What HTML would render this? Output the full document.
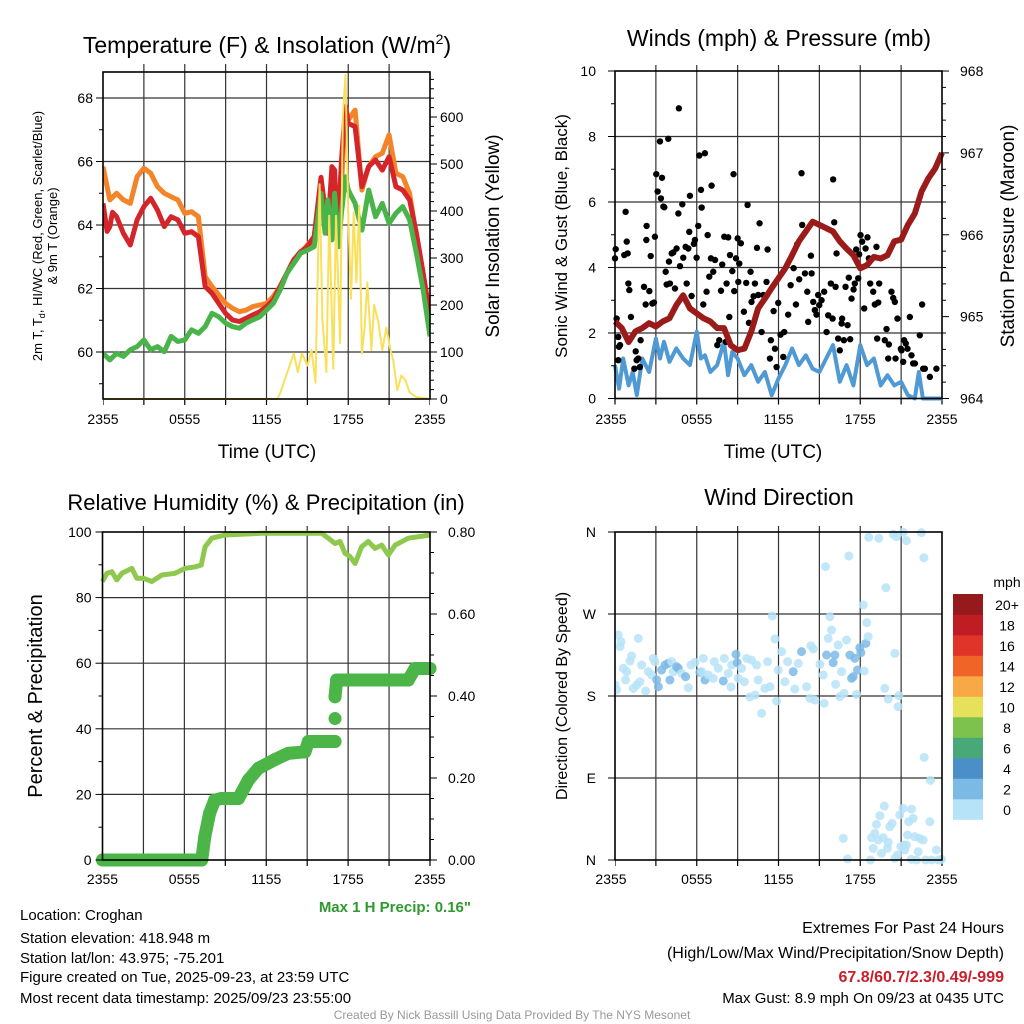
<!DOCTYPE html>
<html><head><meta charset="utf-8"><title>Croghan Mesonet Meteogram</title>
<style>
html,body{margin:0;padding:0;background:#fff;}
svg{display:block;font-family:"Liberation Sans",Arial,sans-serif;}
</style></head>
<body>
<svg id="chart" width="1024" height="1024" viewBox="0 0 1024 1024" xmlns="http://www.w3.org/2000/svg"></svg>
<script>
// ---------- Panel 1 data: temperatures (F) & solar (W/m2) ----------
const tTimes9m = [0,0.5,1,1.5,2,2.5,3,3.5,4,4.5,5,5.5,6,6.5,7,7.5,8,8.5,9,9.5,10,10.5,11,11.5,12,12.5,13,13.5,14,14.5,15,15.5,16,16.3,16.5,16.8,17,17.3,17.5,17.8,18,18.5,19,19.5,20,20.5,21,21.5,22,22.5,23,23.5,24];
const temp9m = [65.84,64.79,65.0,64.79,64.68,65.52,65.79,65.63,65.21,65.0,64.89,64.79,64.37,64.42,64.26,62.37,62.06,61.8,61.53,61.38,61.27,61.32,61.43,61.48,61.53,61.75,62.06,62.48,62.9,63.11,63.37,63.63,65.3,64.3,63.8,65.7,65.5,63.7,65.2,67.73,67.31,67.62,65.1,65.84,66.15,66.26,66.84,65.63,65.52,65.0,63.63,62.37,61.22];
const tTimes2m = [0,0.3,0.5,0.7,1,1.5,2,2.5,3,3.5,4,4.5,5,5.5,6,6.5,7,7.5,8,8.5,9,9.5,10,10.5,11,11.5,12,12.5,13,13.5,14,14.5,15,15.5,16,16.3,16.5,16.8,17,17.2,17.5,17.8,18,18.5,19,19.5,20,20.5,21,21.5,22,22.5,23,23.5,24];
const temp2m = [64.68,63.8,63.95,64.4,64.26,63.74,63.37,64.16,64.58,64.84,64.47,63.95,64.26,64.16,63.74,63.79,63.63,62.06,61.85,61.53,61.22,61.01,60.96,61.06,61.17,61.27,61.43,61.64,62.06,62.48,62.9,63.16,63.32,63.63,65.5,64.47,63.74,65.84,65.73,63.42,66.0,67.73,67.2,67.1,65.21,65.84,66.05,65.73,66.15,65.21,65.1,64.79,63.74,62.48,61.11];
const tdTimes = [0,0.5,1,1.5,2,2.5,3,3.5,4,4.5,5,5.5,6,6.5,7,7.5,8,8.5,9,9.5,10,10.5,11,11.5,12,12.5,13,13.5,14,14.5,15,15.5,16,16.3,16.5,16.8,17,17.3,17.5,17.8,18,18.5,19,19.5,20,20.5,21,21.5,22,22.5,23,23.5,24];
const dewpoint = [59.96,59.75,59.96,59.86,60.07,60.17,60.38,60.07,60.17,60.01,60.49,60.33,60.38,60.7,60.59,60.8,61.22,61.11,60.91,60.8,60.75,60.91,61.01,61.11,61.32,61.53,61.95,62.48,62.79,63.11,63.21,63.32,65.0,63.74,64.79,63.53,65.0,63.32,64.37,65.52,65.1,64.68,63.84,65.1,64.26,64.68,64.05,64.37,64.58,64.16,63.11,61.95,60.49];
const solarTimes = [0,12.8,13,14,14.3,14.6,15,15.3,15.6,15.9,16.1,16.4,16.6,16.9,17.1,17.4,17.6,17.8,18.0,18.2,18.4,18.6,18.8,19.0,19.2,19.4,19.7,19.9,20.2,20.5,20.8,21.1,21.3,21.6,21.9,22.2,22.5,23,24];
const solar = [0,0,12,97,57,97,71,104,35,457,170,57,390,64,390,119,600,690,390,213,397,248,411,97,152,248,104,200,165,104,152,104,83,19,50,40,14,4,0];
const tempTicks = [60,62,64,66,68];
const solarTicks = [0,100,200,300,400,500,600];
const timeTickLabels = ["2355","0555","1155","1755","2355"];

// ---------- Panel 2 data: winds (mph) & pressure (mb) ----------
const windTimes = [0,0.3,0.6,1,1.3,1.6,2,2.5,3,3.3,3.6,4,4.5,5,5.5,6,6.3,6.6,7,7.5,8,8.3,8.6,9,9.5,10,10.5,11,11.5,12,12.5,13,13.5,14,14.5,15,15.5,16,16.5,17,17.5,18,18.5,19,19.5,20,20.5,21,21.5,22,22.3,22.6,23,24];
const windSpeed = [1.02,0.30,1.22,0.40,0.81,0.10,1.22,0.81,1.83,1.22,1.73,1.12,1.53,1.22,1.02,2.04,1.22,1.32,0.81,1.02,1.73,0.71,1.42,1.22,0.71,1.02,0.51,0.81,0.10,0.61,1.02,1.53,1.02,1.32,0.91,0.81,1.22,1.63,0.51,1.02,0.40,1.63,1.02,1.22,0.40,0.71,0.40,0.51,0.10,0.0,0.81,0.0,0.0,0.0];
const gustTimes = [0.0,0.05,0.12,0.24,0.29,0.37,0.24,0.78,0.86,0.68,0.93,0.98,1.05,1.17,1.52,1.59,1.71,1.42,1.83,1.88,2.13,2.25,2.32,2.30,2.52,2.62,2.74,2.86,2.93,3.03,3.13,3.30,3.37,3.45,3.55,3.62,3.72,3.79,3.91,3.96,4.03,4.16,4.28,4.40,4.52,4.65,4.69,4.77,4.94,5.01,5.18,5.26,5.38,5.50,5.45,5.62,5.79,5.87,5.99,6.11,6.19,6.31,6.36,6.48,6.60,6.72,6.80,6.92,7.04,7.09,7.21,7.34,7.51,7.65,7.78,7.87,8.02,8.14,8.19,8.31,8.39,8.44,8.61,8.70,8.75,8.88,9.00,9.05,9.12,9.24,9.46,9.63,9.73,9.83,9.95,10.02,10.17,10.27,10.42,10.51,10.61,10.76,10.88,11.12,11.20,11.37,11.44,11.64,11.74,11.86,11.98,12.15,12.35,12.42,12.71,12.89,13.11,13.28,13.37,13.52,13.69,13.74,13.94,14.11,14.18,14.38,14.43,14.55,14.67,14.79,14.91,14.99,15.16,15.35,15.53,15.65,15.84,15.97,16.01,16.09,16.19,16.26,16.38,16.50,16.63,16.67,16.80,16.92,17.07,17.16,17.26,17.36,17.51,17.60,17.70,17.85,17.92,18.02,18.14,18.29,18.39,18.53,18.63,18.73,18.95,19.07,19.19,19.32,19.24,19.39,19.80,19.93,20.05,20.10,20.29,20.42,20.54,20.59,20.73,20.98,21.03,21.15,21.22,21.34,21.47,21.64,21.76,21.88,22.01,22.37,22.54,22.62,22.74,23.11,23.59];
const gustSpeed = [4.28,4.56,2.44,1.88,1.58,1.63,1.17,5.70,4.79,4.38,4.43,3.51,3.31,2.49,1.44,1.17,1.22,0.91,0.96,1.78,3.41,2.87,5.27,4.84,3.28,4.35,2.90,2.93,4.94,6.85,6.32,7.85,6.11,6.74,5.86,5.84,3.87,3.48,7.93,4.18,3.51,4.43,4.46,3.36,4.58,5.65,8.86,4.04,5.93,4.30,4.63,3.51,4.58,6.19,5.09,3.13,4.72,4.84,4.30,5.27,7.42,6.37,5.83,2.87,7.49,3.26,4.99,3.72,4.28,6.50,3.87,4.23,1.63,1.78,3.29,4.09,4.94,1.73,3.51,4.92,2.49,4.38,3.89,6.85,3.28,4.28,4.89,3.56,4.12,4.74,2.65,3.53,5.91,2.31,3.87,2.95,3.12,3.51,4.60,3.16,5.35,2.03,3.16,3.56,4.55,1.22,1.78,2.67,1.52,0.96,2.92,1.95,1.27,2.03,2.56,3.46,3.98,2.87,4.71,3.64,6.88,5.30,3.82,3.26,2.34,4.36,3.82,2.95,2.70,2.56,3.16,2.85,3.00,3.26,2.03,2.54,3.51,2.44,6.69,5.38,3.41,4.43,1.83,1.47,2.29,2.44,1.78,3.41,2.24,3.69,1.81,3.05,3.33,3.51,4.55,3.67,4.40,4.99,4.79,2.75,4.58,4.92,4.28,3.51,3.26,2.87,4.63,2.93,1.83,3.51,1.78,2.12,1.22,1.65,3.26,3.07,2.95,1.22,2.44,1.52,1.47,1.12,1.78,1.68,1.52,2.49,1.32,1.07,1.07,1.93,2.87,0.91,0.91,0.66,0.91];
const presTimes = [0,0.5,1,1.5,2,2.5,3,3.5,4,4.5,5,5.5,6,6.5,7,7.5,8,8.5,9,9.5,10,10.5,11,11.5,12,12.5,13,13.5,14,14.5,15,15.5,16,16.5,17,17.5,18,18.5,19,19.5,20,20.5,21,21.5,22,22.5,23,23.5,24];
const pressure = [964.94,964.86,964.69,964.82,964.86,964.92,964.88,964.94,964.98,965.14,965.26,965.10,965.04,964.98,964.94,964.86,964.86,964.65,964.59,964.61,964.82,965.10,965.22,965.35,965.47,965.59,965.75,965.92,966.04,966.16,966.12,966.08,966.04,965.92,965.83,965.75,965.59,965.63,965.73,965.71,965.75,965.92,965.94,966.12,966.26,966.53,966.69,966.81,967.0];
const windTicks = [0,2,4,6,8,10];
const presTicks = [964,965,966,967,968];

// ---------- Panel 3 data: RH (%) & precipitation (in) ----------
const rhTimes = [0,0.32,0.68,1.05,1.42,2.15,2.51,3.0,3.61,4.35,5.32,6.05,6.79,7.23,7.52,8.01,8.98,11.67,16.06,16.55,17.04,17.41,17.77,18.14,18.51,18.99,19.48,19.97,20.46,20.95,21.44,22.41,24];
const rh = [84.9,87.4,87.9,85.4,87.4,88.9,85.9,85.9,84.9,86.9,87.4,88.9,89.4,89.9,95.5,98.1,99.1,99.6,99.6,98.1,96.5,97.1,93.5,92.5,90.4,95.5,97.1,95.0,96.0,93.0,96.0,98.1,99.1];
const precipTimes = [0,7.27,7.5,7.85,8.22,8.7,9.96,10.69,11.43,12.65,13.6,14.84,15.09,17.04,17.04,17.04,17.16,22.41,22.9,24];
const precip = [0,0,0.057,0.114,0.146,0.15,0.15,0.195,0.224,0.245,0.26,0.264,0.289,0.289,0.345,0.398,0.439,0.439,0.467,0.467];
const rhTicks = [0,20,40,60,80,100];
const precipTicks = ["0.00","0.20","0.40","0.60","0.80"];

// ---------- Panel 4 data: wind direction (deg) colored by speed ----------
const dirTimes = [0.24,0.44,0.37,1.71,1.22,1.10,0.61,0.86,0.78,0.0,0.12,1.34,1.59,1.83,2.25,1.96,2.45,2.81,2.93,2.69,3.06,3.18,3.42,3.67,3.91,4.03,4.16,4.28,4.52,4.65,4.89,5.18,5.38,5.57,5.87,6.23,6.36,6.48,6.60,6.85,7.21,7.29,7.58,7.95,8.02,8.31,8.51,8.56,8.88,8.97,9.05,9.29,9.49,9.66,9.90,10.02,10.27,10.39,10.51,10.76,11.0,11.20,11.37,11.54,11.74,11.86,11.98,12.23,12.47,12.67,13.08,13.20,13.45,13.69,14.06,14.30,14.38,14.55,14.67,15.04,15.28,15.35,15.45,15.53,15.65,15.77,15.89,16.01,16.14,16.19,16.38,16.50,16.63,16.82,16.99,17.16,17.24,17.36,17.48,17.60,17.73,17.80,17.97,18.04,18.22,18.29,18.41,18.48,18.58,18.63,19.36,19.80,19.88,20.05,20.42,20.54,20.66,20.78,20.83,21.15,21.39,22.49,22.67,22.69,23.15,16.75,17.07,18.75,18.83,18.95,19.07,19.19,19.32,19.44,19.56,19.68,19.76,20.0,20.05,20.17,20.34,20.54,20.73,20.90,20.98,21.15,21.22,21.27,21.39,21.47,21.56,21.76,21.88,22.0,22.37,22.62,22.25,21.76,22.13,22.79,23.11,23.23,23.59,23.72,23.96];
const dirDeg = [246.9,239.6,234.1,243.3,223.9,218.4,210.4,206.7,197.6,192.1,186.6,188.4,192.1,195.7,185.5,214.0,206.7,221.3,217.7,203.0,197.6,190.2,208.5,214.0,215.8,197.6,217.7,206.7,212.2,210.4,204.9,201.2,189.1,214.0,216.9,206.0,206.7,221.3,197.6,203.1,199.4,217.7,210.4,196.5,221.3,204.9,189.9,214.0,225.7,216.6,199.4,210.4,195.7,221.3,178.9,219.5,181.1,214.0,197.6,161.0,188.4,217.7,190.2,267.8,242.6,174.5,208.5,228.7,195.7,217.7,206.7,187.7,215.8,228.7,190.2,177.4,235.2,231.6,175.6,214.8,203.0,171.9,322.0,225.0,243.3,267.1,252.4,216.6,225.0,192.8,236.0,179.3,206.7,182.9,241.5,333.7,225.0,199.4,201.2,221.3,181.8,208.5,233.0,227.6,279.9,207.4,237.8,260.5,245.1,354.2,353.1,188.4,298.9,176.7,357.5,226.8,354.9,168.3,180.4,359.7,350.5,359.3,331.8,112.7,87.4,23.8,1.1,0.0,24.5,12.8,29.3,39.1,21.9,48.6,7.3,24.5,59.2,12.8,19.4,36.6,40.2,1.8,5.5,49.4,14.6,56.7,16.4,11.0,16.4,27.4,42.0,55.9,45.7,25.6,23.8,21.9,9.1,0.7,0.0,0.0,42.0,0.0,11.0,0.0,0.7];
const dirSpeed = [1,1,1,1,1,1,1,1,1,1,1,1,1,1,1,1,1,1,1,1,3,3,3,3,3,3,1,1,3,3,1,3,1,1,1,3,1,1,3,1,1,1,1,3,1,1,1,1,3,3,1,1,1,1,1,1,1,1,1,1,1,1,1,1,1,1,1,1,1,1,3,1,1,3,1,1,1,1,1,1,1,1,1,3,1,1,1,3,3,1,1,1,1,1,1,1,3,3,3,3,1,3,3,3,1,1,3,1,1,1,1,1,1,1,1,1,1,1,1,1,1,1,1,1,1,1,1,1,1,1,1,1,1,1,1,1,1,1,1,1,1,1,1,1,1,1,1,1,1,1,1,1,1,1,1,1,1,1,1,1,1,1,1,1,1,1];
const dirTickLabels = ["N","E","S","W","N"];
const speedBins = ["0","2","4","6","8","10","12","14","16","18","20+"];
const speedColors = ["#b6e3f7","#7cbae6","#4a8fc8","#48a878","#7cc24c","#e6e05a","#f8a845","#f06428","#e03428","#c01c24","#961a1c"];

// ---------- helpers ----------
const NS = "http://www.w3.org/2000/svg";
const svg = document.getElementById("chart");
function mk(tag, attrs, parent) {
  const e = document.createElementNS(NS, tag);
  for (const k in attrs) e.setAttribute(k, attrs[k]);
  (parent || svg).appendChild(e);
  return e;
}
function txt(x, y, s, size, anchor, parent, fill, weight) {
  const t = mk("text", {x: x, y: y, "font-size": size, "text-anchor": anchor || "middle", fill: fill || "#000"}, parent);
  if (weight) t.setAttribute("font-weight", weight);
  t.textContent = s;
  return t;
}
function pathD(xs, ys, fx, fy) {
  let d = "";
  for (let i = 0; i < xs.length; i++) d += (i ? "L" : "M") + fx(xs[i]).toFixed(1) + "," + fy(ys[i]).toFixed(1);
  return d;
}
function grp(parent) { return mk("g", {}, parent); }

function frame(L, T, R, B, g) {
  const r = mk("rect", {x: L, y: T, width: R - L, height: B - T, fill: "none", stroke: "#000", "stroke-width": 1.6}, g);
  
  
}
function timeAxis(L, R, B, g) {
  const xs = h => L + h * (R - L) / 24;
  for (let h = 0; h <= 24; h += 3) {
    if (h > 0 && h < 24) {
      const gl = mk("line", {x1: xs(h), y1: B, x2: xs(h), y2: B - 1000, stroke: "#333", "stroke-width": 1.2}, g);
      
      
    }
    const tk = mk("line", {x1: xs(h), y1: B, x2: xs(h), y2: B + 6, stroke: "#000", "stroke-width": 1.2}, g);
    
    
  }
}

// ================= PANEL 1 =================
(function () {
  const L = 103, R = 430, T = 72, B = 399;
  const g = grp();
  
  
  const x = h => L + h * (R - L) / 24;
  const yT = t => 98 + (68 - t) * 31.75;
  const yS = s => B - s * 0.47;
  const clip = mk("clipPath", {id: "c1"}, g);
  mk("rect", {x: L, y: T - 8, width: R - L, height: B - T + 14}, clip);
  const gg = grp(g); gg.setAttribute("clip-path", "url(#c1)");
  for (const v of tempTicks) {
    const l = mk("line", {x1: L, y1: yT(v), x2: R, y2: yT(v), stroke: "#333", "stroke-width": 1.2}, gg);
    
    
  }
  timeAxis(L, R, B, gg);
  for (let v = 59; v <= 68; v++) {
    const tk = mk("line", {x1: L, y1: yT(v), x2: L - (v % 2 === 0 ? 7 : 4), y2: yT(v), stroke: "#000", "stroke-width": 1}, g);
    
    
  }
  for (const v of tempTicks) {
    const t = txt(L - 10, yT(v) + 5, String(v), 14, "end", g);
    
    
  }
  for (let s = 0; s <= 680; s += 20) {
    const tk = mk("line", {x1: R, y1: yS(s), x2: R + (s % 100 === 0 ? 7 : 4), y2: yS(s), stroke: "#000", "stroke-width": 1}, g);
    
    
  }
  for (const s of solarTicks) {
    const t = txt(R + 10, yS(s) + 5, String(s), 14, "start", g);
    
    
  }
  for (let i = 0; i < timeTickLabels.length; i++) {
    const t = txt(x(i * 6), 424, timeTickLabels[i], 14, "middle", g);
    
    
  }
  const p9 = mk("path", {d: pathD(tTimes9m, temp9m, x, yT), fill: "none", stroke: "#f4842a", "stroke-width": 5, "stroke-linejoin": "round"}, gg);
  
  
  const p2 = mk("path", {d: pathD(tTimes2m, temp2m, x, yT), fill: "none", stroke: "#d4262a", "stroke-width": 5, "stroke-linejoin": "round"}, gg);
  
  
  const pd = mk("path", {d: pathD(tdTimes, dewpoint, x, yT), fill: "none", stroke: "#49b44a", "stroke-width": 5, "stroke-linejoin": "round"}, gg);
  
  
  const ps = mk("path", {d: pathD(solarTimes, solar, x, yS), fill: "none", stroke: "#f9e05a", "stroke-width": 2, "stroke-linejoin": "round"}, gg);
  
  
  frame(L, T, R, B, g);
  const ti = mk("text", {x: 267, y: 53, "font-size": 23, "text-anchor": "middle"}, g);
  ti.innerHTML = 'Temperature (F) &amp; Insolation (W/m<tspan dy="-9" font-size="14">2</tspan><tspan dy="9">)</tspan>';
  
  
  const xl = txt(267, 458, "Time (UTC)", 19, "middle", g);
  
  
  const yl = mk("text", {transform: "translate(42,236) rotate(-90)", "font-size": 13, "text-anchor": "middle"}, g);
  yl.innerHTML = '2m T, T<tspan dy="3" font-size="9">d</tspan><tspan dy="-3">, HI/WC (Red, Green, Scarlet/Blue)</tspan>';
  
  
  const yl2 = mk("text", {transform: "translate(57,236) rotate(-90)", "font-size": 13, "text-anchor": "middle"}, g);
  yl2.textContent = "& 9m T (Orange)";
  
  
  const yr = mk("text", {transform: "translate(499,236) rotate(-90)", "font-size": 19, "text-anchor": "middle"}, g);
  yr.textContent = "Solar Insolation (Yellow)";
  
  
})();

// ================= PANEL 2 =================
(function () {
  const L = 615, R = 942, T = 71, B = 398.5;
  const g = grp();
  
  
  const x = h => L + h * (R - L) / 24;
  const yW = v => B - v * 32.75;
  const yP = p => B - (p - 964) * 81.87;
  const clip = mk("clipPath", {id: "c2"}, g);
  mk("rect", {x: L - 4, y: T - 6, width: R - L + 8, height: B - T + 14}, clip);
  const gg = grp(g); gg.setAttribute("clip-path", "url(#c2)");
  for (const v of [2, 4, 6, 8]) {
    const l = mk("line", {x1: L, y1: yW(v), x2: R, y2: yW(v), stroke: "#333", "stroke-width": 1.2}, gg);
    
    
  }
  timeAxis(L, R, B, gg);
  for (let v = 0; v <= 10; v++) {
    const tk = mk("line", {x1: L, y1: yW(v), x2: L - (v % 2 === 0 ? 7 : 4), y2: yW(v), stroke: "#000", "stroke-width": 1}, g);
    
    
  }
  for (const v of windTicks) {
    const t = txt(L - 19, yW(v) + 5, String(v), 14, "end", g);
    
    
  }
  for (let p = 964; p <= 968.001; p += 0.2) {
    const maj = Math.abs(p - Math.round(p)) < 0.01;
    const tk = mk("line", {x1: R, y1: yP(p), x2: R + (maj ? 7 : 4), y2: yP(p), stroke: "#000", "stroke-width": 1}, g);
    
    
  }
  for (const p of presTicks) {
    const t = txt(R + 18, yP(p) + 5, String(p), 14, "start", g);
    
    
  }
  for (let i = 0; i < timeTickLabels.length; i++) {
    const t = txt(x(i * 6) - (i === 0 ? 4 : 0), 424, timeTickLabels[i], 14, "middle", g);
    
    
  }
  const pw = mk("path", {d: pathD(windTimes, windSpeed, x, yW), fill: "none", stroke: "#4f9ad4", "stroke-width": 4, "stroke-linejoin": "round"}, gg);
  
  
  for (let i = 0; i < gustTimes.length; i++) {
    const c = mk("circle", {cx: x(gustTimes[i]), cy: yW(gustSpeed[i]), r: 3.2, fill: "#000"}, gg);
    
    
  }
  const pp = mk("path", {d: pathD(presTimes, pressure, x, yP), fill: "none", stroke: "#9b1b1b", "stroke-width": 6, "stroke-linejoin": "round"}, gg);
  
  
  frame(L, T, R, B, g);
  const ti = txt(779, 46, "Winds (mph) & Pressure (mb)", 23, "middle", g);
  
  
  const xl = txt(773, 458, "Time (UTC)", 19, "middle", g);
  
  
  const yl = mk("text", {transform: "translate(567,236) rotate(-90)", "font-size": 17, "text-anchor": "middle"}, g);
  yl.textContent = "Sonic Wind & Gust (Blue, Black)";
  
  
  const yr = mk("text", {transform: "translate(1014,236) rotate(-90)", "font-size": 19, "text-anchor": "middle"}, g);
  yr.textContent = "Station Pressure (Maroon)";
  
  
})();

// ================= PANEL 3 =================
(function () {
  const L = 102.5, R = 430, T = 532, B = 860;
  const g = grp();
  
  
  const x = h => L + h * (R - L) / 24;
  const yR = r => B - r * 3.28;
  const yPr = p => B - p * 125 * 3.28;
  const clip = mk("clipPath", {id: "c3"}, g);
  mk("rect", {x: L - 8, y: T - 6, width: R - L + 16, height: B - T + 14}, clip);
  const gg = grp(g); gg.setAttribute("clip-path", "url(#c3)");
  for (const v of [20, 40, 60, 80]) {
    const l = mk("line", {x1: L, y1: yR(v), x2: R, y2: yR(v), stroke: "#333", "stroke-width": 1.2}, gg);
    
    
  }
  timeAxis(L, R, B, gg);
  for (let v = 0; v <= 100; v += 10) {
    const tk = mk("line", {x1: L, y1: yR(v), x2: L - (v % 20 === 0 ? 7 : 4), y2: yR(v), stroke: "#000", "stroke-width": 1}, g);
    
    
  }
  for (const v of rhTicks) {
    const t = txt(L - 11, yR(v) + 5, String(v), 14, "end", g);
    
    
  }
  for (let k = 0; k <= 16; k++) {
    const p = k * 0.05;
    const tk = mk("line", {x1: R, y1: yPr(p), x2: R + (k % 4 === 0 ? 7 : 4), y2: yPr(p), stroke: "#000", "stroke-width": 1}, g);
    
    
  }
  for (let i = 0; i < precipTicks.length; i++) {
    const t = txt(R + 18, yPr(parseFloat(precipTicks[i])) + 5, precipTicks[i], 14, "start", g);
    
    
  }
  for (let i = 0; i < timeTickLabels.length; i++) {
    const t = txt(x(i * 6), 884, timeTickLabels[i], 14, "middle", g);
    
    
  }
  const pr = mk("path", {d: pathD(rhTimes, rh, x, yR), fill: "none", stroke: "#8ec94e", "stroke-width": 5, "stroke-linejoin": "round"}, gg);
  
  
  let d = "";
  for (let i = 1; i < precipTimes.length; i++) {
    if (precipTimes[i] - precipTimes[i - 1] > 0.05) d += "M" + x(precipTimes[i - 1]).toFixed(1) + "," + yPr(precip[i - 1]).toFixed(1) + "L" + x(precipTimes[i]).toFixed(1) + "," + yPr(precip[i]).toFixed(1);
  }
  const pl = mk("path", {d: d, fill: "none", stroke: "#4bb548", "stroke-width": 13, "stroke-linecap": "round", "stroke-linejoin": "round"}, gg);
  
  
  for (let i = 0; i < precipTimes.length; i++) {
    const c = mk("circle", {cx: x(precipTimes[i]), cy: yPr(precip[i]), r: 6.5, fill: "#4bb548"}, gg);
    
    
  }
  frame(L, T, R, B, g);
  const ti = txt(266, 510, "Relative Humidity (%) & Precipitation (in)", 22, "middle", g);
  
  
  const yl = mk("text", {transform: "translate(42,696) rotate(-90)", "font-size": 20, "text-anchor": "middle"}, g);
  yl.textContent = "Percent & Precipitation";
  
  
  const mp = txt(471, 912, "Max 1 H Precip: 0.16\"", 15, "end", g, "#2e9a2e", "bold");
  
  
})();

// ================= PANEL 4 =================
(function () {
  const L = 615, R = 942, T = 532, B = 860;
  const g = grp();
  
  
  const x = h => L + h * (R - L) / 24;
  const yD = d => B - d * (B - T) / 360;
  const clip = mk("clipPath", {id: "c4"}, g);
  mk("rect", {x: L, y: T - 6, width: R - L + 6, height: B - T + 12}, clip);
  const gg = grp(g); gg.setAttribute("clip-path", "url(#c4)");
  for (const v of [90, 180, 270]) {
    const l = mk("line", {x1: L, y1: yD(v), x2: R, y2: yD(v), stroke: "#333", "stroke-width": 1.2}, gg);
    
    
  }
  timeAxis(L, R, B, gg);
  for (let i = 0; i < dirTickLabels.length; i++) {
    const tk = mk("line", {x1: L, y1: yD(i * 90), x2: L - 7, y2: yD(i * 90), stroke: "#000", "stroke-width": 1}, g);
    
    
    const t = txt(L - 19, yD(i * 90) + 5, dirTickLabels[i], 14, "end", g);
    
    
  }
  for (let i = 0; i < timeTickLabels.length; i++) {
    const t = txt(x(i * 6) - (i === 0 ? 4 : 0), 884, timeTickLabels[i], 14, "middle", g);
    
    
  }
  for (let i = 0; i < dirTimes.length; i++) {
    const bin = Math.min(10, Math.floor(dirSpeed[i] / 2));
    const c = mk("circle", {cx: x(dirTimes[i]), cy: yD(dirDeg[i]), r: 4.5, fill: speedColors[bin], "fill-opacity": 0.85}, gg);
    
    
  }
  frame(L, T, R, B, g);
  const cb = grp(g);
  
  
  const cbTop = 594, cbH = 20.5;
  for (let i = 0; i < speedBins.length; i++) {
    const yy = cbTop + (speedBins.length - 1 - i) * cbH;
    const r = mk("rect", {x: 953, y: yy, width: 30, height: cbH + 0.3, fill: speedColors[i]}, cb);
    
    
    const t = txt(1007, yy + 16, speedBins[i], 14, "middle", cb);
    
    
  }
  const u = txt(1007, 587, "mph", 14, "middle", cb);
  
  
  const ti = txt(779, 505, "Wind Direction", 23, "middle", g);
  
  
  const yl = mk("text", {transform: "translate(567,696) rotate(-90)", "font-size": 16, "text-anchor": "middle"}, g);
  yl.textContent = "Direction (Colored By Speed)";
  
  
})();

// ================= Footer text =================
(function () {
  const g = grp();
  
  
  const lines = ["Location: Croghan", "Station elevation: 418.948 m", "Station lat/lon: 43.975; -75.201", "Figure created on Tue, 2025-09-23, at 23:59 UTC", "Most recent data timestamp: 2025/09/23 23:55:00"];
  const ys = [920, 943, 963, 982, 1003];
  for (let i = 0; i < lines.length; i++) {
    const t = txt(20, ys[i], lines[i], 15, "start", g);
    
    
  }
  const g2 = grp();
  
  
  const e1 = txt(1004, 933, "Extremes For Past 24 Hours", 16, "end", g2);
  
  
  const e2 = txt(1004, 958, "(High/Low/Max Wind/Precipitation/Snow Depth)", 16, "end", g2);
  
  
  const e3 = txt(1004, 982, "67.8/60.7/2.3/0.49/-999", 16, "end", g2, "#c8202a", "bold");
  
  
  const e4 = txt(1004, 1003, "Max Gust: 8.9 mph On 09/23 at 0435 UTC", 15, "end", g2);
  
  
  const cr = txt(512, 1019, "Created By Nick Bassill Using Data Provided By The NYS Mesonet", 12, "middle", null, "#999");
  
  
})();
</script>
</body></html>
